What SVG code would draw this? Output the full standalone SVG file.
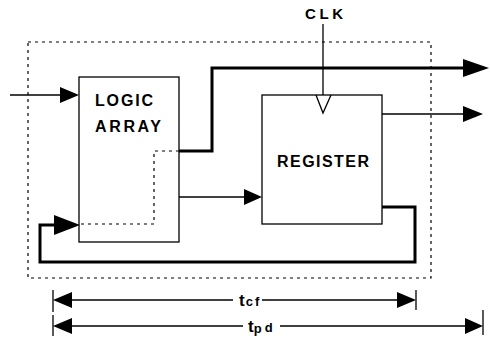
<svg xmlns="http://www.w3.org/2000/svg" width="490" height="341" viewBox="0 0 490 341">
<style>
.box{fill:#fff;stroke:#000;stroke-width:1.3}
.thin{fill:none;stroke:#000;stroke-width:1.3}
.thick{fill:none;stroke:#000;stroke-width:3}
.dot{fill:none;stroke:#000;stroke-width:1.2;stroke-dasharray:3,4}
.lbl{font-family:"Liberation Sans",Arial,sans-serif;font-size:16px;font-weight:bold;fill:#000}
.dim{font-family:"Liberation Sans",Arial,sans-serif;font-weight:bold;fill:#000}
.ah{fill:#000}
</style>
<rect width="490" height="341" fill="#fff"/>
<rect id="boundary" class="dot" x="28" y="42" width="403" height="236"/>
<g id="logic-array">
<rect class="box" x="79" y="77" width="100" height="165"/>
<text class="lbl" x="95" y="106" textLength="58" lengthAdjust="spacing">LOGIC</text>
<text class="lbl" x="95" y="132" textLength="66" lengthAdjust="spacing">ARRAY</text>
</g>
<g id="register">
<rect class="box" x="262" y="95" width="120" height="129"/>
<polyline class="thin" points="316,95 323,113 331,95"/>
<text class="lbl" x="277" y="167" textLength="92" lengthAdjust="spacing">REGISTER</text>
</g>
<g id="clk">
<text class="lbl" x="305" y="19" textLength="38" lengthAdjust="spacing" style="font-size:15px">CLK</text>
</g>
<g id="connectors">
<line class="thin" x1="323" y1="24" x2="323" y2="95"/>
<line class="thin" x1="10" y1="95" x2="62" y2="95"/>
<polygon class="ah" points="60,87 79,95 60,103"/>
<polyline class="thick" points="179,151 212,151 212,68 467,68"/>
<polygon class="ah" points="463,59 489,68 463,77"/>
<line class="thin" x1="382" y1="114" x2="465" y2="114"/>
<polygon class="ah" points="463,106 483,114 463,122"/>
<line class="thin" x1="179" y1="197" x2="246" y2="197"/>
<polygon class="ah" points="244,189 262,197 244,205"/>
<polyline class="thick" points="382,207 415,207 415,262 40,262 40,225 56,225"/>
<polygon class="ah" points="54,215 80,225 54,235"/>
<polyline class="dot" points="179,151 154,151 154,224 80,224"/>
</g>
<g id="dimensions">
<line class="thin" x1="53" y1="290" x2="53" y2="312"/>
<line class="thin" x1="416" y1="290" x2="416" y2="310"/>
<line class="thin" x1="70" y1="300" x2="233" y2="300"/>
<line class="thin" x1="262" y1="300" x2="399" y2="300"/>
<polygon class="ah" points="72,292 53,300 72,308"/>
<polygon class="ah" points="397,292 416,300 397,308"/>
<text class="dim" x="239" y="306" style="font-size:17px">t<tspan style="font-size:13px" dx="1">c</tspan><tspan style="font-size:13px" dx="2">f</tspan></text>
<line class="thin" x1="53" y1="315" x2="53" y2="336"/>
<line class="thin" x1="483" y1="310" x2="483" y2="335"/>
<line class="thin" x1="70" y1="326" x2="243" y2="326"/>
<line class="thin" x1="280" y1="326" x2="467" y2="326"/>
<polygon class="ah" points="72,318 53,326 72,334"/>
<polygon class="ah" points="465,318 483,326 465,334"/>
<text class="dim" x="248" y="332" style="font-size:17px">t<tspan style="font-size:13px" dx="0" dy="1">p</tspan><tspan style="font-size:13px" dx="3" dy="-1">d</tspan></text>
</g>
</svg>
